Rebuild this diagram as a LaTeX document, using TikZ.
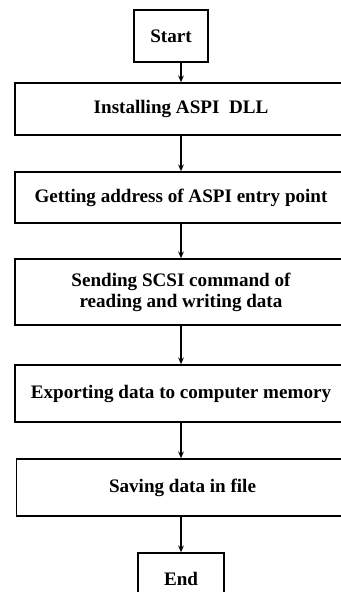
\documentclass[tikz,border=0pt]{standalone}
\usepackage{fontspec}
\setmainfont{Liberation Serif}
\usetikzlibrary{arrows.meta, positioning}

\begin{document}
\begin{tikzpicture}[
    every node/.style={font=\bfseries\fontsize{16.3}{18}\selectfont},
    stepbox/.style={rectangle, draw, line width=1.4pt, minimum width=9.96cm, align=center, inner sep=2pt},
    termbox/.style={rectangle, draw, line width=1.4pt, minimum height=1.56cm, align=center},
    arrow/.style={-{Stealth[length=2mm, width=1.7mm]}, line width=1.2pt}
]

\clip (0,0) rectangle (10.23,-17.76);
\useasboundingbox (0,0) rectangle (10.23,-17.76);

% ============ TERMINALS ============
\node[termbox, minimum width=2.22cm] (start) at (5.13, -1.08) {Start};

% ============ STEPS ============
\node[stepbox, minimum height=1.56cm] (install) at (5.43, -3.27) {Installing ASPI\ \ DLL};
\node[stepbox, minimum height=1.53cm] (entry) at (5.43, -5.925) {Getting address of ASPI entry point};
\node[stepbox, minimum height=1.98cm] (scsi) at (5.43, -8.76) {Sending SCSI command of\\reading and writing data};
\node[stepbox, minimum height=1.71cm] (export) at (5.43, -11.805) {Exporting data to computer memory};
\node[stepbox, minimum height=1.71cm] (save) at (5.475, -14.625) {Saving data in file};

\node[termbox, minimum width=2.58cm] (end) at (5.43, -17.37) {End};

% ============ FLOW ============
\draw[arrow] (start.south -| install.north) -- (install.north);
\draw[arrow] (install) -- (entry);
\draw[arrow] (entry) -- (scsi);
\draw[arrow] (scsi) -- (export);
\draw[arrow] (export.south) -- (export.south |- save.north);
\draw[arrow] (save.south -| end.north) -- (end.north);

\end{tikzpicture}
\end{document}
